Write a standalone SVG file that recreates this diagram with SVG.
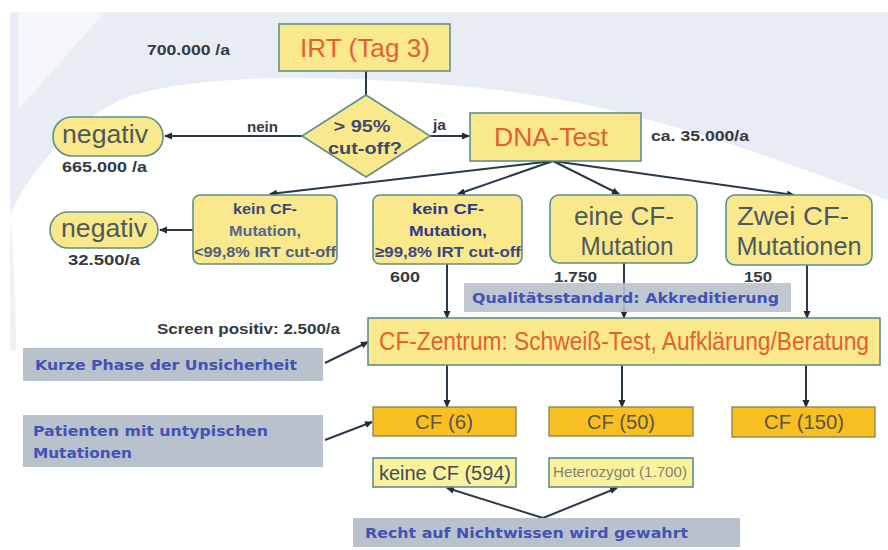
<svg xmlns="http://www.w3.org/2000/svg" width="888" height="550" viewBox="0 0 888 550">
  <style>
    .box { fill: #fae98c; stroke: #5e8f8a; stroke-width: 1.6; }
    .cf { fill: #f7bf22; stroke: #8c8a58; stroke-width: 1.4; }
    .note { fill: #b9c1cc; }
    .big { font-family: "Liberation Sans", Arial, sans-serif; font-size: 25px; fill: #e2622e; }
    .dark { font-family: "Liberation Sans", Arial, sans-serif; font-size: 25px; fill: #4d5a5c; }
    .lbl { font-family: "Liberation Sans", Arial, sans-serif; font-weight: bold; font-size: 15px; fill: #333a40; }
    .dia { font-family: "Liberation Sans", Arial, sans-serif; font-weight: bold; font-size: 17px; fill: #3a4a6e; }
    .small { font-family: "Liberation Sans", Arial, sans-serif; font-weight: bold; font-size: 15px; }
    .cft { font-family: "Liberation Sans", Arial, sans-serif; font-size: 20px; fill: #5e5542; }
    .nt { font-family: "DejaVu Sans", Verdana, sans-serif; font-size: 14px; font-weight: bold; fill: #4252b6; }
    .con { fill: none; stroke: #2b3a4a; stroke-width: 2; }
  </style>
  <defs>
    <marker id="arr" viewBox="0 0 8 8" refX="7" refY="4" markerWidth="8" markerHeight="8" markerUnits="userSpaceOnUse" orient="auto">
      <path d="M0,0.5 L8,4 L0,7.5 z" fill="#1f2c3a"/>
    </marker>
  </defs>

  <!-- background -->
  <rect width="888" height="550" fill="#ffffff"/>
  <path d="M10,12 H888 V200 C 800,170 650,105 480,88 C 340,74 190,72 120,100 C 70,125 30,170 10,215 Z" fill="#e8edf4"/>
  <path d="M18,12 L105,12 L18,110 Z" fill="#f6f8fb" opacity="0.8"/>
  <path d="M10,215 C 14,260 16,300 16,350 L10,350 Z" fill="#eef2f7"/>

  <!-- connectors -->
  <g id="connectors">
    <line class="con" x1="366" y1="71" x2="366" y2="95"/>
    <line class="con" x1="302" y1="136" x2="165" y2="136" marker-end="url(#arr)"/>
    <line class="con" x1="430" y1="136" x2="469" y2="136" marker-end="url(#arr)"/>
    <line class="con" x1="553" y1="161" x2="270" y2="194" marker-end="url(#arr)"/>
    <line class="con" x1="553" y1="161" x2="458" y2="194" marker-end="url(#arr)"/>
    <line class="con" x1="553" y1="161" x2="619" y2="194" marker-end="url(#arr)"/>
    <line class="con" x1="553" y1="161" x2="794" y2="195" marker-end="url(#arr)"/>
    <line class="con" x1="193" y1="230" x2="160" y2="230" marker-end="url(#arr)"/>
    <line class="con" x1="447" y1="264" x2="447" y2="318" marker-end="url(#arr)"/>
    <line class="con" x1="624" y1="263" x2="624" y2="318" marker-end="url(#arr)"/>
    <line class="con" x1="807" y1="265" x2="807" y2="318" marker-end="url(#arr)"/>
    <line class="con" x1="325" y1="363" x2="368" y2="342" marker-end="url(#arr)"/>
    <line class="con" x1="447" y1="365" x2="447" y2="407" marker-end="url(#arr)"/>
    <line class="con" x1="622" y1="365" x2="622" y2="407" marker-end="url(#arr)"/>
    <line class="con" x1="806" y1="365" x2="806" y2="407" marker-end="url(#arr)"/>
    <line class="con" x1="325" y1="440" x2="372" y2="422" marker-end="url(#arr)"/>
    <line class="con" x1="543" y1="518" x2="447" y2="488" marker-end="url(#arr)"/>
    <line class="con" x1="543" y1="518" x2="617" y2="488" marker-end="url(#arr)"/>
  </g>

  <!-- flow nodes -->
  <g id="irt">
    <rect class="box" x="279" y="24" width="171" height="47"/>
    <text class="big" x="365" y="57" text-anchor="middle" textLength="130" lengthAdjust="spacingAndGlyphs">IRT (Tag 3)</text>
  </g>
  <text class="lbl" x="147" y="55" font-size="16" textLength="83" lengthAdjust="spacingAndGlyphs">700.000 /a</text>

  <g id="cutoff">
    <path class="box" d="M366,95 L430,136 L366,177 L302,136 Z"/>
    <text class="dia" x="362" y="132" text-anchor="middle" textLength="57" lengthAdjust="spacingAndGlyphs">&gt; 95%</text>
    <text class="dia" x="365" y="154" text-anchor="middle" textLength="74" lengthAdjust="spacingAndGlyphs">cut-off?</text>
  </g>
  <text class="lbl" x="247" y="132" textLength="31" lengthAdjust="spacingAndGlyphs">nein</text>
  <text class="lbl" x="433" y="130" textLength="13" lengthAdjust="spacingAndGlyphs">ja</text>

  <g id="negativ1">
    <rect class="box" x="53" y="117" width="110" height="39" rx="19"/>
    <text class="dark" x="105" y="143" text-anchor="middle" font-size="26" textLength="86" lengthAdjust="spacingAndGlyphs">negativ</text>
  </g>
  <text class="lbl" x="62" y="172" font-size="16" textLength="85" lengthAdjust="spacingAndGlyphs">665.000 /a</text>

  <g id="dnatest">
    <rect class="box" x="470" y="113" width="171" height="48"/>
    <text class="big" x="551" y="146" text-anchor="middle" textLength="114" lengthAdjust="spacingAndGlyphs">DNA-Test</text>
  </g>
  <text class="lbl" x="651" y="141" font-size="16" textLength="98" lengthAdjust="spacingAndGlyphs">ca. 35.000/a</text>

  <g id="negativ2">
    <rect class="box" x="50" y="212" width="108" height="36" rx="18"/>
    <text class="dark" x="104" y="237" text-anchor="middle" font-size="26" textLength="86" lengthAdjust="spacingAndGlyphs">negativ</text>
  </g>
  <text class="lbl" x="68" y="265" textLength="72" lengthAdjust="spacingAndGlyphs">32.500/a</text>

  <g id="keinCF-low">
    <rect class="box" x="193" y="195" width="144" height="69" rx="7"/>
    <text class="small" x="265" y="214" text-anchor="middle" fill="#3a4a7c" textLength="64" lengthAdjust="spacingAndGlyphs">kein CF-</text>
    <text class="small" x="265" y="236" text-anchor="middle" fill="#56668c" textLength="72" lengthAdjust="spacingAndGlyphs">Mutation,</text>
    <text class="small" x="265" y="257" text-anchor="middle" fill="#4e5e7e" textLength="142" lengthAdjust="spacingAndGlyphs">&lt;99,8% IRT cut-off</text>
  </g>

  <g id="keinCF-high">
    <rect class="box" x="373" y="195" width="149" height="69" rx="7"/>
    <text class="small" x="448" y="214" text-anchor="middle" fill="#2c3c86" textLength="72" lengthAdjust="spacingAndGlyphs">kein CF-</text>
    <text class="small" x="448" y="236" text-anchor="middle" fill="#2c3c86" textLength="78" lengthAdjust="spacingAndGlyphs">Mutation,</text>
    <text class="small" x="448" y="257" text-anchor="middle" fill="#3a4a80" textLength="146" lengthAdjust="spacingAndGlyphs">≥99,8% IRT cut-off</text>
  </g>
  <text class="lbl" x="390" y="282" textLength="30" lengthAdjust="spacingAndGlyphs">600</text>

  <g id="eineCF">
    <rect class="box" x="550" y="195" width="147" height="68" rx="9"/>
    <text class="dark" x="624" y="225" text-anchor="middle" textLength="100" lengthAdjust="spacingAndGlyphs">eine CF-</text>
    <text class="dark" x="627" y="255" text-anchor="middle" textLength="93" lengthAdjust="spacingAndGlyphs">Mutation</text>
  </g>
  <text class="lbl" x="554" y="282" textLength="43" lengthAdjust="spacingAndGlyphs">1.750</text>

  <g id="zweiCF">
    <rect class="box" x="726" y="195" width="146" height="70" rx="9"/>
    <text class="dark" x="793" y="225" text-anchor="middle" textLength="112" lengthAdjust="spacingAndGlyphs">Zwei CF-</text>
    <text class="dark" x="799" y="255" text-anchor="middle" textLength="125" lengthAdjust="spacingAndGlyphs">Mutationen</text>
  </g>
  <text class="lbl" x="744" y="282" textLength="28" lengthAdjust="spacingAndGlyphs">150</text>

  <g id="qualitaet">
    <rect class="note" x="464" y="283" width="327" height="29" opacity="0.9"/>
    <text class="nt" x="472" y="303" textLength="307" lengthAdjust="spacingAndGlyphs">Qualitätsstandard: Akkreditierung</text>
  </g>

  <text class="lbl" x="157" y="334" textLength="183" lengthAdjust="spacingAndGlyphs">Screen positiv: 2.500/a</text>

  <g id="zentrum">
    <rect class="box" x="368" y="318" width="512" height="47"/>
    <text class="big" x="624" y="350" text-anchor="middle" font-size="21.5" textLength="490" lengthAdjust="spacingAndGlyphs">CF-Zentrum: Schweiß-Test, Aufklärung/Beratung</text>
  </g>

  <g id="unsicherheit">
    <rect class="note" x="23" y="348" width="300" height="33"/>
    <text class="nt" x="35" y="370" textLength="262" lengthAdjust="spacingAndGlyphs">Kurze Phase der Unsicherheit</text>
  </g>

  <g id="cf6">
    <rect class="cf" x="373" y="407" width="143" height="29"/>
    <text class="cft" x="444" y="429" text-anchor="middle" textLength="58" lengthAdjust="spacingAndGlyphs">CF (6)</text>
  </g>
  <g id="cf50">
    <rect class="cf" x="549" y="407" width="144" height="29"/>
    <text class="cft" x="621" y="429" text-anchor="middle" textLength="68" lengthAdjust="spacingAndGlyphs">CF (50)</text>
  </g>
  <g id="cf150">
    <rect class="cf" x="732" y="407" width="143" height="30"/>
    <text class="cft" x="804" y="429" text-anchor="middle" textLength="80" lengthAdjust="spacingAndGlyphs">CF (150)</text>
  </g>

  <g id="patienten">
    <rect class="note" x="23" y="415" width="300" height="52"/>
    <text class="nt" x="33" y="436" textLength="235" lengthAdjust="spacingAndGlyphs">Patienten mit untypischen</text>
    <text class="nt" x="33" y="458" textLength="99" lengthAdjust="spacingAndGlyphs">Mutationen</text>
  </g>

  <g id="keineCF">
    <rect class="box" x="373" y="458" width="143" height="29" style="fill:#fbf2a0"/>
    <text class="cft" x="445" y="480" text-anchor="middle" style="fill:#3e4c5a" textLength="132" lengthAdjust="spacingAndGlyphs">keine CF (594)</text>
  </g>
  <g id="heterozygot">
    <rect class="box" x="549" y="458" width="144" height="29" style="fill:#fbf2a0"/>
    <text x="620" y="477" text-anchor="middle" font-family="Liberation Sans, Arial, sans-serif" font-size="14" fill="#7f8472" textLength="134" lengthAdjust="spacingAndGlyphs">Heterozygot (1.700)</text>
  </g>

  <g id="nichtwissen">
    <rect class="note" x="353" y="518" width="387" height="29"/>
    <text class="nt" x="365" y="538" textLength="323" lengthAdjust="spacingAndGlyphs">Recht auf Nichtwissen wird gewahrt</text>
  </g>
</svg>
